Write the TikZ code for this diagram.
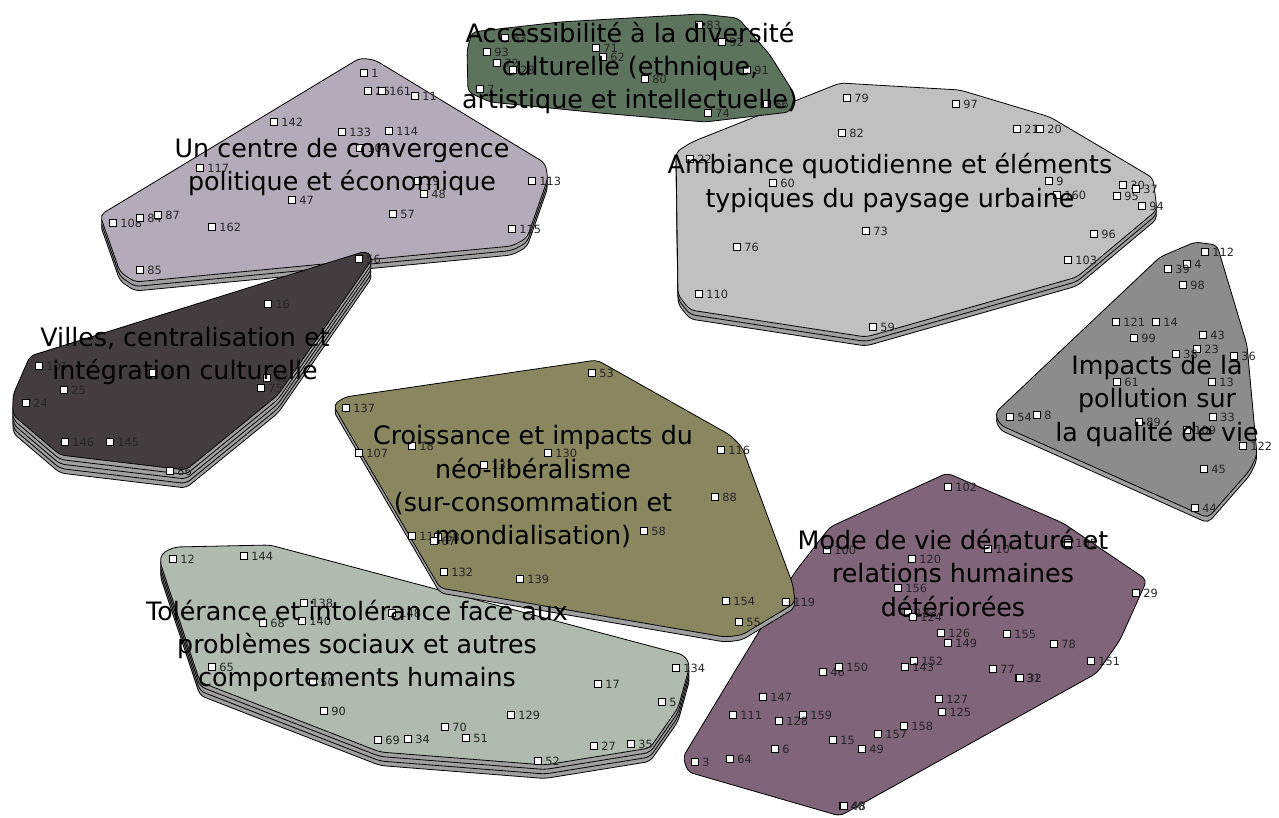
\documentclass[tikz,border=0pt]{standalone}
\usepackage{fontspec}
\setmainfont{DejaVu Sans}
\usetikzlibrary{positioning}

\definecolor{accgreen}{HTML}{5E735E}
\definecolor{centrelav}{HTML}{B3ABBA}
\definecolor{ambgray}{HTML}{C0C0C0}
\definecolor{villesdark}{HTML}{433D40}
\definecolor{impgray}{HTML}{8C8C8C}
\definecolor{croiolive}{HTML}{8A8660}
\definecolor{tolsage}{HTML}{AEBBAE}
\definecolor{modemauve}{HTML}{806479}
\definecolor{layergray}{HTML}{A0A0A0}

\tikzset{
  zone/.style={draw=black, line width=0.6pt, rounded corners=4pt},
  layer/.style={zone, fill=layergray},
  pt/.style={draw=black, fill=white, line width=0.7pt, minimum size=5pt, inner sep=0pt},
  numlbl/.style={font=\fontsize{8.5}{9.5}\selectfont, text=black!85, inner sep=1pt},
  title/.style={font=\fontsize{19}{25}\selectfont, align=center, text=black, inner sep=0pt},
}

\begin{document}
\begin{tikzpicture}[x=0.75pt, y=-0.75pt, label distance=1.5pt]
    \useasboundingbox (0,0) rectangle (1279,818);

    % 1. Contours des regroupements
    \def\modePath{(947,473) -- (1063,523) -- (1147,580) -- (1120,640) -- (1097,673) -- (840,816) -- (688,772) -- (683,757) -- (795,572) -- (830,527) -- cycle}
    \def\tolPath{(162,553) -- (175,547) -- (270,545) -- (684,655) -- (690,665) -- (678,708) -- (650,748) -- (545,765) -- (380,752) -- (200,682) -- (160,562) -- cycle}
    \def\croiPath{(345,397) -- (597,360) -- (730,435) -- (742,447) -- (793,585) -- (795,603) -- (742,635) -- (725,637) -- (440,588) -- (333,405) -- cycle}
    \def\impPath{(1195,242) -- (1217,245) -- (1247,345) -- (1257,455) -- (1250,470) -- (1208,518) -- (1000,425) -- (995,413) -- (1160,257) -- cycle}
    \def\ambPath{(692,142) -- (840,83) -- (960,90) -- (1050,117) -- (1153,178) -- (1157,210) -- (1077,277) -- (866,337) -- (690,310) -- (678,295) -- (676,152) -- cycle}
    \def\centrePath{(100,215) -- (360,58) -- (375,60) -- (545,163) -- (548,178) -- (527,238) -- (512,246) -- (135,282) -- (120,272) -- cycle}
    \def\villesPath{(366,251) -- (373,258) -- (278,395) -- (186,470) -- (60,455) -- (13,415) -- (13,395) -- (30,356) -- cycle}
    \def\accPath{(472,32) -- (560,22) -- (700,14) -- (738,18) -- (770,55) -- (795,95) -- (790,112) -- (705,122) -- (600,113) -- (490,102) -- (468,92) -- (467,50) -- cycle}

    \draw[zone, fill=modemauve] \modePath;
    \foreach \k in {3,2,1}
        \draw[layer, shift={(0,\k*4.5)}] \tolPath;
    \draw[zone, fill=tolsage] \tolPath;
    \draw[layer, shift={(0,5)}] \croiPath;
    \draw[zone, fill=croiolive] \croiPath;
    \draw[layer, shift={(0,5)}] \impPath;
    \draw[zone, fill=impgray] \impPath;
    \foreach \k in {2,1}
        \draw[layer, shift={(0,\k*4.5)}] \ambPath;
    \draw[zone, fill=ambgray] \ambPath;
    \foreach \k in {2,1}
        \draw[layer, shift={(0,\k*4.5)}] \centrePath;
    \draw[zone, fill=centrelav] \centrePath;
    \foreach \k in {4,...,1}
        \draw[layer, shift={(0,\k*4.5)}] \villesPath;
    \draw[zone, fill=villesdark] \villesPath;
    \draw[zone, fill=accgreen] \accPath;

    % 2. Enonces
    \foreach \x/\y/\n in {505/38/63, 487/52/93, 497/63/72, 513/70/28, 596/48/71, 603/57/62,
        699/25/83, 722/42/92, 747/70/91, 645/79/80, 480/89/7, 708/113/74, 767/104/66}
        \node[pt, label={[numlbl]right:\n}] (p\n) at (\x,\y) {};
    \foreach \x/\y/\n in {364/73/1, 368/91/26, 382/91/161, 415/96/11, 274/122/142, 342/132/133,
        389/131/114, 360/148/104, 200/168/117, 532/181/113, 292/200/47, 418/181/19, 424/194/48,
        393/214/57, 113/223/108, 140/218/84, 158/215/87, 212/227/162, 512/229/115, 140/270/85}
        \node[pt, label={[numlbl]right:\n}] (p\n) at (\x,\y) {};
    \foreach \x/\y/\n in {847/98/79, 956/104/97, 842/133/82, 1017/129/21, 1040/129/20, 690/159/22,
        773/183/60, 1049/181/9, 1057/195/160, 1123/185/30, 1117/196/95, 1136/189/37, 1142/206/94,
        866/231/73, 1094/234/96, 737/247/76, 1068/260/103, 699/294/110, 873/327/59}
        \node[pt, label={[numlbl]right:\n}] (p\n) at (\x,\y) {};
    \foreach \x/\y/\n in {359/259/56, 268/304/16, 39/366/101, 153/373/141, 64/390/25, 26/403/24,
        267/378/42, 261/388/75, 65/442/146, 110/442/145, 170/471/86}
        \node[pt, label={[numlbl]right:\n}] (p\n) at (\x,\y) {};
    \foreach \x/\y/\n in {1205/252/112, 1187/264/4, 1168/269/39, 1183/285/98, 1116/322/121,
        1156/322/14, 1134/338/99, 1203/335/43, 1197/349/23, 1176/354/38, 1234/356/36, 1117/382/61,
        1212/382/13, 1010/417/54, 1037/415/8, 1213/417/33, 1139/422/89, 1187/430/109,
        1243/446/122, 1204/469/45, 1195/508/44}
        \node[pt, label={[numlbl]right:\n}] (p\n) at (\x,\y) {};
    \foreach \x/\y/\n in {592/373/53, 346/408/137, 359/453/107, 412/446/18, 484/465/131,
        548/453/130, 721/450/116, 715/497/88, 412/536/118, 438/537/68, 434/541/67, 644/531/58,
        444/572/132, 520/579/139, 726/601/154, 786/602/119, 739/622/55}
        \node[pt, label={[numlbl]right:\n}] (p\n) at (\x,\y) {};
    \foreach \x/\y/\n in {173/559/12, 244/556/144, 304/603/138, 302/621/140, 263/623/68,
        392/613/148, 212/667/65, 313/682/50, 676/668/134, 598/684/17, 662/702/5, 324/711/90,
        511/715/129, 445/727/70, 378/740/69, 408/739/34, 466/738/51, 594/746/27, 631/744/35,
        538/761/52}
        \node[pt, label={[numlbl]right:\n}] (p\n) at (\x,\y) {};
    \foreach \x/\y/\n in {948/487/102, 827/550/100, 912/559/120, 988/549/10, 1068/543/105,
        898/588/156, 1136/593/29, 908/613/123, 913/617/124, 941/633/126, 1007/634/155,
        948/643/149, 1054/644/78, 1091/661/151, 914/661/152, 905/667/143, 823/672/46,
        839/667/150, 993/669/77, 1019/678/31, 1020/678/32, 763/697/147, 939/699/127,
        942/712/125, 733/715/111, 803/715/159, 779/721/128, 904/726/158, 878/734/157,
        833/740/15, 862/749/49, 775/749/6, 730/759/64, 695/762/3, 843/806/40, 844/806/48}
        \node[pt, label={[numlbl]right:\n}] (p\n) at (\x,\y) {};

    % 3. Titres des regroupements
    \node[title] (tAcc) at (630,68) {Accessibilité à la diversité\\culturelle (ethnique,\\artistique et intellectuelle)};
    \node[title] (tCentre) at (342,167) {Un centre de convergence\\politique et économique};
    \node[title] (tAmb) at (890,183) {Ambiance quotidienne et éléments\\typiques du paysage urbaine};
    \node[title] (tVilles) at (185,356) {Villes, centralisation et\\intégration culturelle};
    \node[title] (tImp) at (1157,401) {Impacts de la\\pollution sur\\la qualité de vie};
    \node[title] (tCroi) at (533,487) {Croissance et impacts du\\néo-libéralisme\\(sur-consommation et\\mondialisation)};
    \node[title] (tTol) at (357,646) {Tolérance et intolérance face aux\\problèmes sociaux et autres\\comportements humains};
    \node[title] (tMode) at (953,573) {Mode de vie dénaturé et\\relations humaines\\détériorées};
\end{tikzpicture}
\end{document}
